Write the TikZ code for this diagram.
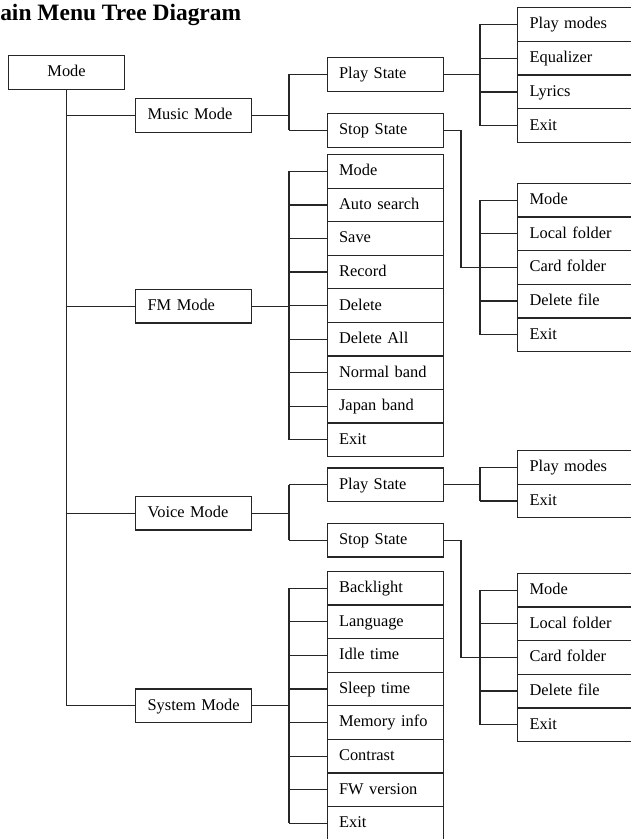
\documentclass[tikz,border=0pt]{standalone}
\usepackage{fontspec}
\setmainfont{Liberation Serif}
\begin{document}
\begin{tikzpicture}[x=0.75pt,y=-0.75pt,
  ln/.style={line width=0.9pt, draw=black!85},
  base/.style={draw=black!85, line width=0.9pt, rectangle, anchor=north west,
    minimum width=87pt, minimum height=25.2pt, inner xsep=2.5pt, inner ysep=0pt,
    text width=82pt, font=\fontsize{12.3}{14}\selectfont,
    text height=0.9em, text depth=0.24em},
  bx/.style={base, align=left, execute at begin node={\hspace*{6.5pt}}},
  cbx/.style={base, align=center},
  ttl/.style={anchor=base west, inner sep=0pt, font=\fontsize{17.6}{20}\selectfont\bfseries}]
\useasboundingbox (0,0) rectangle (631,839);
\node[ttl] (title) at (0,20.5) {ain Menu Tree Diagram};
% level 0/1
\node[cbx] (mode) at (8,55) {Mode};
\node[bx] (mm) at (135,98) {Music Mode};
\node[bx] (fm) at (135,288.7) {FM Mode};
\node[bx] (vm) at (135,495.7) {Voice Mode};
\node[bx] (sm) at (135,688.3) {System Mode};
% bracket x positions
\coordinate (bA) at (289,0);
\coordinate (bB) at (480,0);
\coordinate (bC) at (461,0);
% trunk
\draw[ln] (mode.south) -- (mode.south |- sm.west);
\foreach \n in {mm,fm,vm,sm} \draw[ln] (mode.south |- \n.west) -- (\n.west);
% Music
\node[bx] (mps) at (326.5,57) {Play State};
\node[bx] (mss) at (326.5,113) {Stop State};
\draw[ln] (mm.east) -- (bA |- mm.east);
\draw[ln] (bA |- mps.west) -- (bA |- mss.west);
\draw[ln] (bA |- mps.west) -- (mps.west);
\draw[ln] (bA |- mss.west) -- (mss.west);
\foreach \t [count=\i] in {Play modes, Equalizer, Lyrics, Exit}
  \node[bx] (mp\i) at (517,{7+(\i-1)*33.75}) {\t};
\draw[ln] (mps.east) -- (bB |- mps.east);
\draw[ln] (bB |- mp1.west) -- (bB |- mp4.west);
\foreach \i in {1,...,4} \draw[ln] (bB |- mp\i.west) -- (mp\i.west);
\foreach \t [count=\i] in {Mode, Local folder, Card folder, Delete file, Exit}
  \node[bx] (ms\i) at (517,{182.7+(\i-1)*33.65}) {\t};
\draw[ln] (bB |- ms1.west) -- (bB |- ms5.west);
\foreach \i in {1,...,5} \draw[ln] (bB |- ms\i.west) -- (ms\i.west);
\draw[ln] (mss.east) -| (bC |- ms3.west) -- (ms3.west);
% FM
\foreach \t [count=\i] in {Mode, Auto search, Save, Record, Delete, Delete All, Normal band, Japan band, Exit}
  \node[bx] (f\i) at (326.5,{154+(\i-1)*33.56}) {\t};
\draw[ln] (fm.east) -- (bA |- fm.east);
\draw[ln] (bA |- f1.west) -- (bA |- f9.west);
\foreach \i in {1,...,9} \draw[ln] (bA |- f\i.west) -- (f\i.west);
% Voice
\node[bx] (vps) at (326.5,467.3) {Play State};
\node[bx] (vss) at (326.5,522.7) {Stop State};
\draw[ln] (vm.east) -- (bA |- vm.east);
\draw[ln] (bA |- vps.west) -- (bA |- vss.west);
\draw[ln] (bA |- vps.west) -- (vps.west);
\draw[ln] (bA |- vss.west) -- (vss.west);
\foreach \t [count=\i] in {Play modes, Exit}
  \node[bx] (vp\i) at (517,{450+(\i-1)*33.65}) {\t};
\draw[ln] (vps.east) -- (bB |- vps.east);
\draw[ln] (bB |- vp1.west) -- (bB |- vp2.west);
\foreach \i in {1,2} \draw[ln] (bB |- vp\i.west) -- (vp\i.west);
\foreach \t [count=\i] in {Mode, Local folder, Card folder, Delete file, Exit}
  \node[bx] (vs\i) at (517,{572.7+(\i-1)*33.65}) {\t};
\draw[ln] (bB |- vs1.west) -- (bB |- vs5.west);
\foreach \i in {1,...,5} \draw[ln] (bB |- vs\i.west) -- (vs\i.west);
\draw[ln] (vss.east) -| (bC |- vs3.west) -- (vs3.west);
% System
\foreach \t [count=\i] in {Backlight, Language, Idle time, Sleep time, Memory info, Contrast, FW version, Exit}
  \node[bx] (s\i) at (326.5,{570.7+(\i-1)*33.6}) {\t};
\draw[ln] (sm.east) -- (bA |- sm.east);
\draw[ln] (bA |- s1.west) -- (bA |- s8.west);
\foreach \i in {1,...,8} \draw[ln] (bA |- s\i.west) -- (s\i.west);
\end{tikzpicture}
\end{document}
